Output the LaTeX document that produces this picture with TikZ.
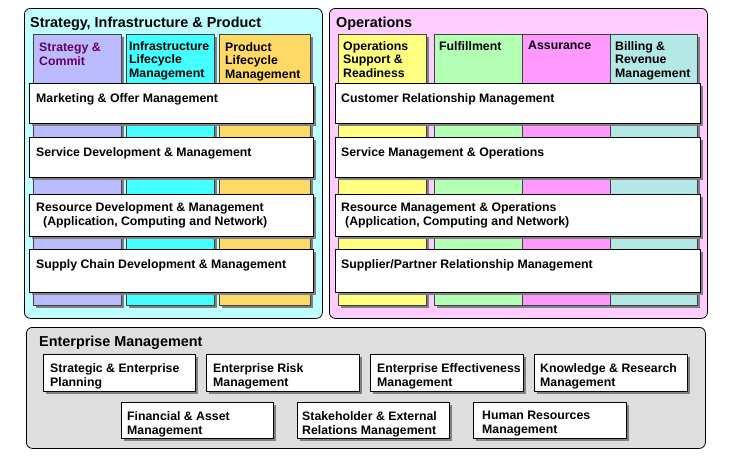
\documentclass[tikz,border=0pt]{standalone}
\usepackage{fontspec}
\setmainfont{Liberation Sans}
\usepackage[usenames]{xcolor}
\usepackage{tikz}
\usetikzlibrary{shadows}

\definecolor{sipbg}{HTML}{C0FFFF}
\definecolor{opsbg}{HTML}{FFCCFF}
\definecolor{embg}{HTML}{DEDEDE}
\definecolor{stratcol}{HTML}{BBBBFF}
\definecolor{infracol}{HTML}{44FFFF}
\definecolor{prodcol}{HTML}{FFD966}
\definecolor{osrcol}{HTML}{FFFF80}
\definecolor{fulcol}{HTML}{B3FFB3}
\definecolor{asscol}{HTML}{FF99FF}
\definecolor{billcol}{HTML}{B3E8E6}
\definecolor{stratink}{HTML}{660066}

\tikzset{
  panel/.style={draw=black, line width=0.8pt, rounded corners=6pt, anchor=north west, inner sep=0},
  vcol/.style={draw=black!75, line width=0.6pt, anchor=north west, inner sep=0,
    drop shadow={shadow xshift=3pt, shadow yshift=-3pt, fill=black!50, opacity=1}},
  hbar/.style={draw=black, fill=white, line width=0.8pt, anchor=north west, inner sep=0,
    drop shadow={shadow xshift=3pt, shadow yshift=-3pt, fill=black!50, opacity=1}},
  txt/.style={anchor=north west, inner sep=0, align=left, font=\bfseries\fontsize{12.3}{14}\selectfont},
  coltxt/.style={txt, font=\bfseries\fontsize{12.3}{13.5}\selectfont},
  ttl/.style={anchor=north west, inner sep=0, font=\bfseries\fontsize{14.4}{16}\selectfont},
}

\begin{document}
\begin{tikzpicture}[x=1pt,y=-1pt,line join=round]
\useasboundingbox (0,0) rectangle (729,461);

% panels
\node[panel, fill=sipbg, minimum width=298pt, minimum height=310pt] (sip) at (24,8) {};
\node[panel, fill=opsbg, minimum width=378pt, minimum height=310pt] (ops) at (329,8) {};
\node[panel, fill=embg, minimum width=679pt, minimum height=121pt] (em) at (26,327) {};
\node[ttl] (sipttl) at ([shift={(6,9)}]sip.north west) {Strategy, Infrastructure \& Product};
\node[ttl] (opsttl) at ([shift={(7,9)}]ops.north west) {Operations};
\node[ttl] (emttl) at ([shift={(13,9)}]em.north west) {Enterprise Management};

% vertical columns
\node[vcol, fill=stratcol, minimum width=88pt, minimum height=271pt] (strat) at (33,34) {};
\node[vcol, fill=infracol, minimum width=88pt, minimum height=271pt] (infra) at (126,34) {};
\node[vcol, fill=prodcol, minimum width=91pt, minimum height=271pt] (prod) at (219,34) {};
\node[vcol, fill=osrcol, minimum width=88pt, minimum height=271pt] (osr) at (338,34) {};
\node[vcol, fill=fulcol, minimum width=88pt, minimum height=271pt] (ful) at (434,34) {};
\node[vcol, fill=asscol, minimum width=88pt, minimum height=271pt] (ass) at (522,34) {};
\node[vcol, fill=billcol, minimum width=87pt, minimum height=271pt] (bill) at (610,34) {};

\node[coltxt, text=stratink] at ([shift={(6,9)}]strat.north west) {Strategy \&\\Commit};
\node[coltxt] at ([shift={(3,7)}]infra.north west) {Infrastructure\\Lifecycle\\Management};
\node[coltxt] at ([shift={(6,8)}]prod.north west) {Product\\Lifecycle\\Management};
\node[coltxt] at ([shift={(5,7)}]osr.north west) {Operations\\Support \&\\Readiness};
\node[coltxt] at ([shift={(5,7)}]ful.north west) {Fulfillment};
\node[coltxt] at ([shift={(6,7)}]ass.north west) {Assurance};
\node[coltxt] at ([shift={(5,7)}]bill.north west) {Billing \&\\Revenue\\Management};

% horizontal bars
\node[hbar, minimum width=284pt, minimum height=40pt] (mkt) at (29,83) {};
\node[hbar, minimum width=284pt, minimum height=40pt] (svcdev) at (29,137) {};
\node[hbar, minimum width=284pt, minimum height=42pt] (resdev) at (29,194) {};
\node[hbar, minimum width=284pt, minimum height=43pt] (supply) at (29,249) {};
\node[hbar, minimum width=365pt, minimum height=40pt] (crm) at (335,83) {};
\node[hbar, minimum width=365pt, minimum height=40pt] (svcops) at (335,137) {};
\node[hbar, minimum width=365pt, minimum height=42pt] (resops) at (335,194) {};
\node[hbar, minimum width=365pt, minimum height=43pt] (sprm) at (335,249) {};

\node[txt] at ([shift={(7,10)}]mkt.north west) {Marketing \& Offer Management};
\node[txt] at ([shift={(7,10)}]svcdev.north west) {Service Development \& Management};
\node[txt] at ([shift={(7,8)}]resdev.north west) {Resource Development \& Management\\\hspace{7pt}(Application, Computing and Network)};
\node[txt] at ([shift={(7,10)}]supply.north west) {Supply Chain Development \& Management};
\node[txt] at ([shift={(6,10)}]crm.north west) {Customer Relationship Management};
\node[txt] at ([shift={(6,10)}]svcops.north west) {Service Management \& Operations};
\node[txt] at ([shift={(6,8)}]resops.north west) {Resource Management \& Operations\\\hspace{4pt}(Application, Computing and Network)};
\node[txt] at ([shift={(6,10)}]sprm.north west) {Supplier/Partner Relationship Management};

% enterprise management boxes
\node[hbar, minimum width=152pt, minimum height=37pt] (sep) at (43,354) {};
\node[hbar, minimum width=153pt, minimum height=37pt] (erm) at (206,354) {};
\node[hbar, minimum width=153pt, minimum height=37pt] (eem) at (370,354) {};
\node[hbar, minimum width=153pt, minimum height=37pt] (krm) at (534,354) {};
\node[hbar, minimum width=152pt, minimum height=36pt] (fam) at (121,402) {};
\node[hbar, minimum width=152pt, minimum height=36pt] (serm) at (297,402) {};
\node[hbar, minimum width=153pt, minimum height=36pt] (hrm) at (473,402) {};

\node[txt] at ([shift={(7,9)}]sep.north west) {Strategic \& Enterprise\\Planning};
\node[txt] at ([shift={(7,9)}]erm.north west) {Enterprise Risk\\Management};
\node[txt] at ([shift={(7,9)}]eem.north west) {Enterprise Effectiveness\\Management};
\node[txt] at ([shift={(6,9)}]krm.north west) {Knowledge \& Research\\Management};
\node[txt] at ([shift={(6,9)}]fam.north west) {Financial \& Asset\\Management};
\node[txt] at ([shift={(5,9)}]serm.north west) {Stakeholder \& External\\Relations Management};
\node[txt] at ([shift={(9,9)}]hrm.north west) {Human Resources\\Management};
\end{tikzpicture}
\end{document}
